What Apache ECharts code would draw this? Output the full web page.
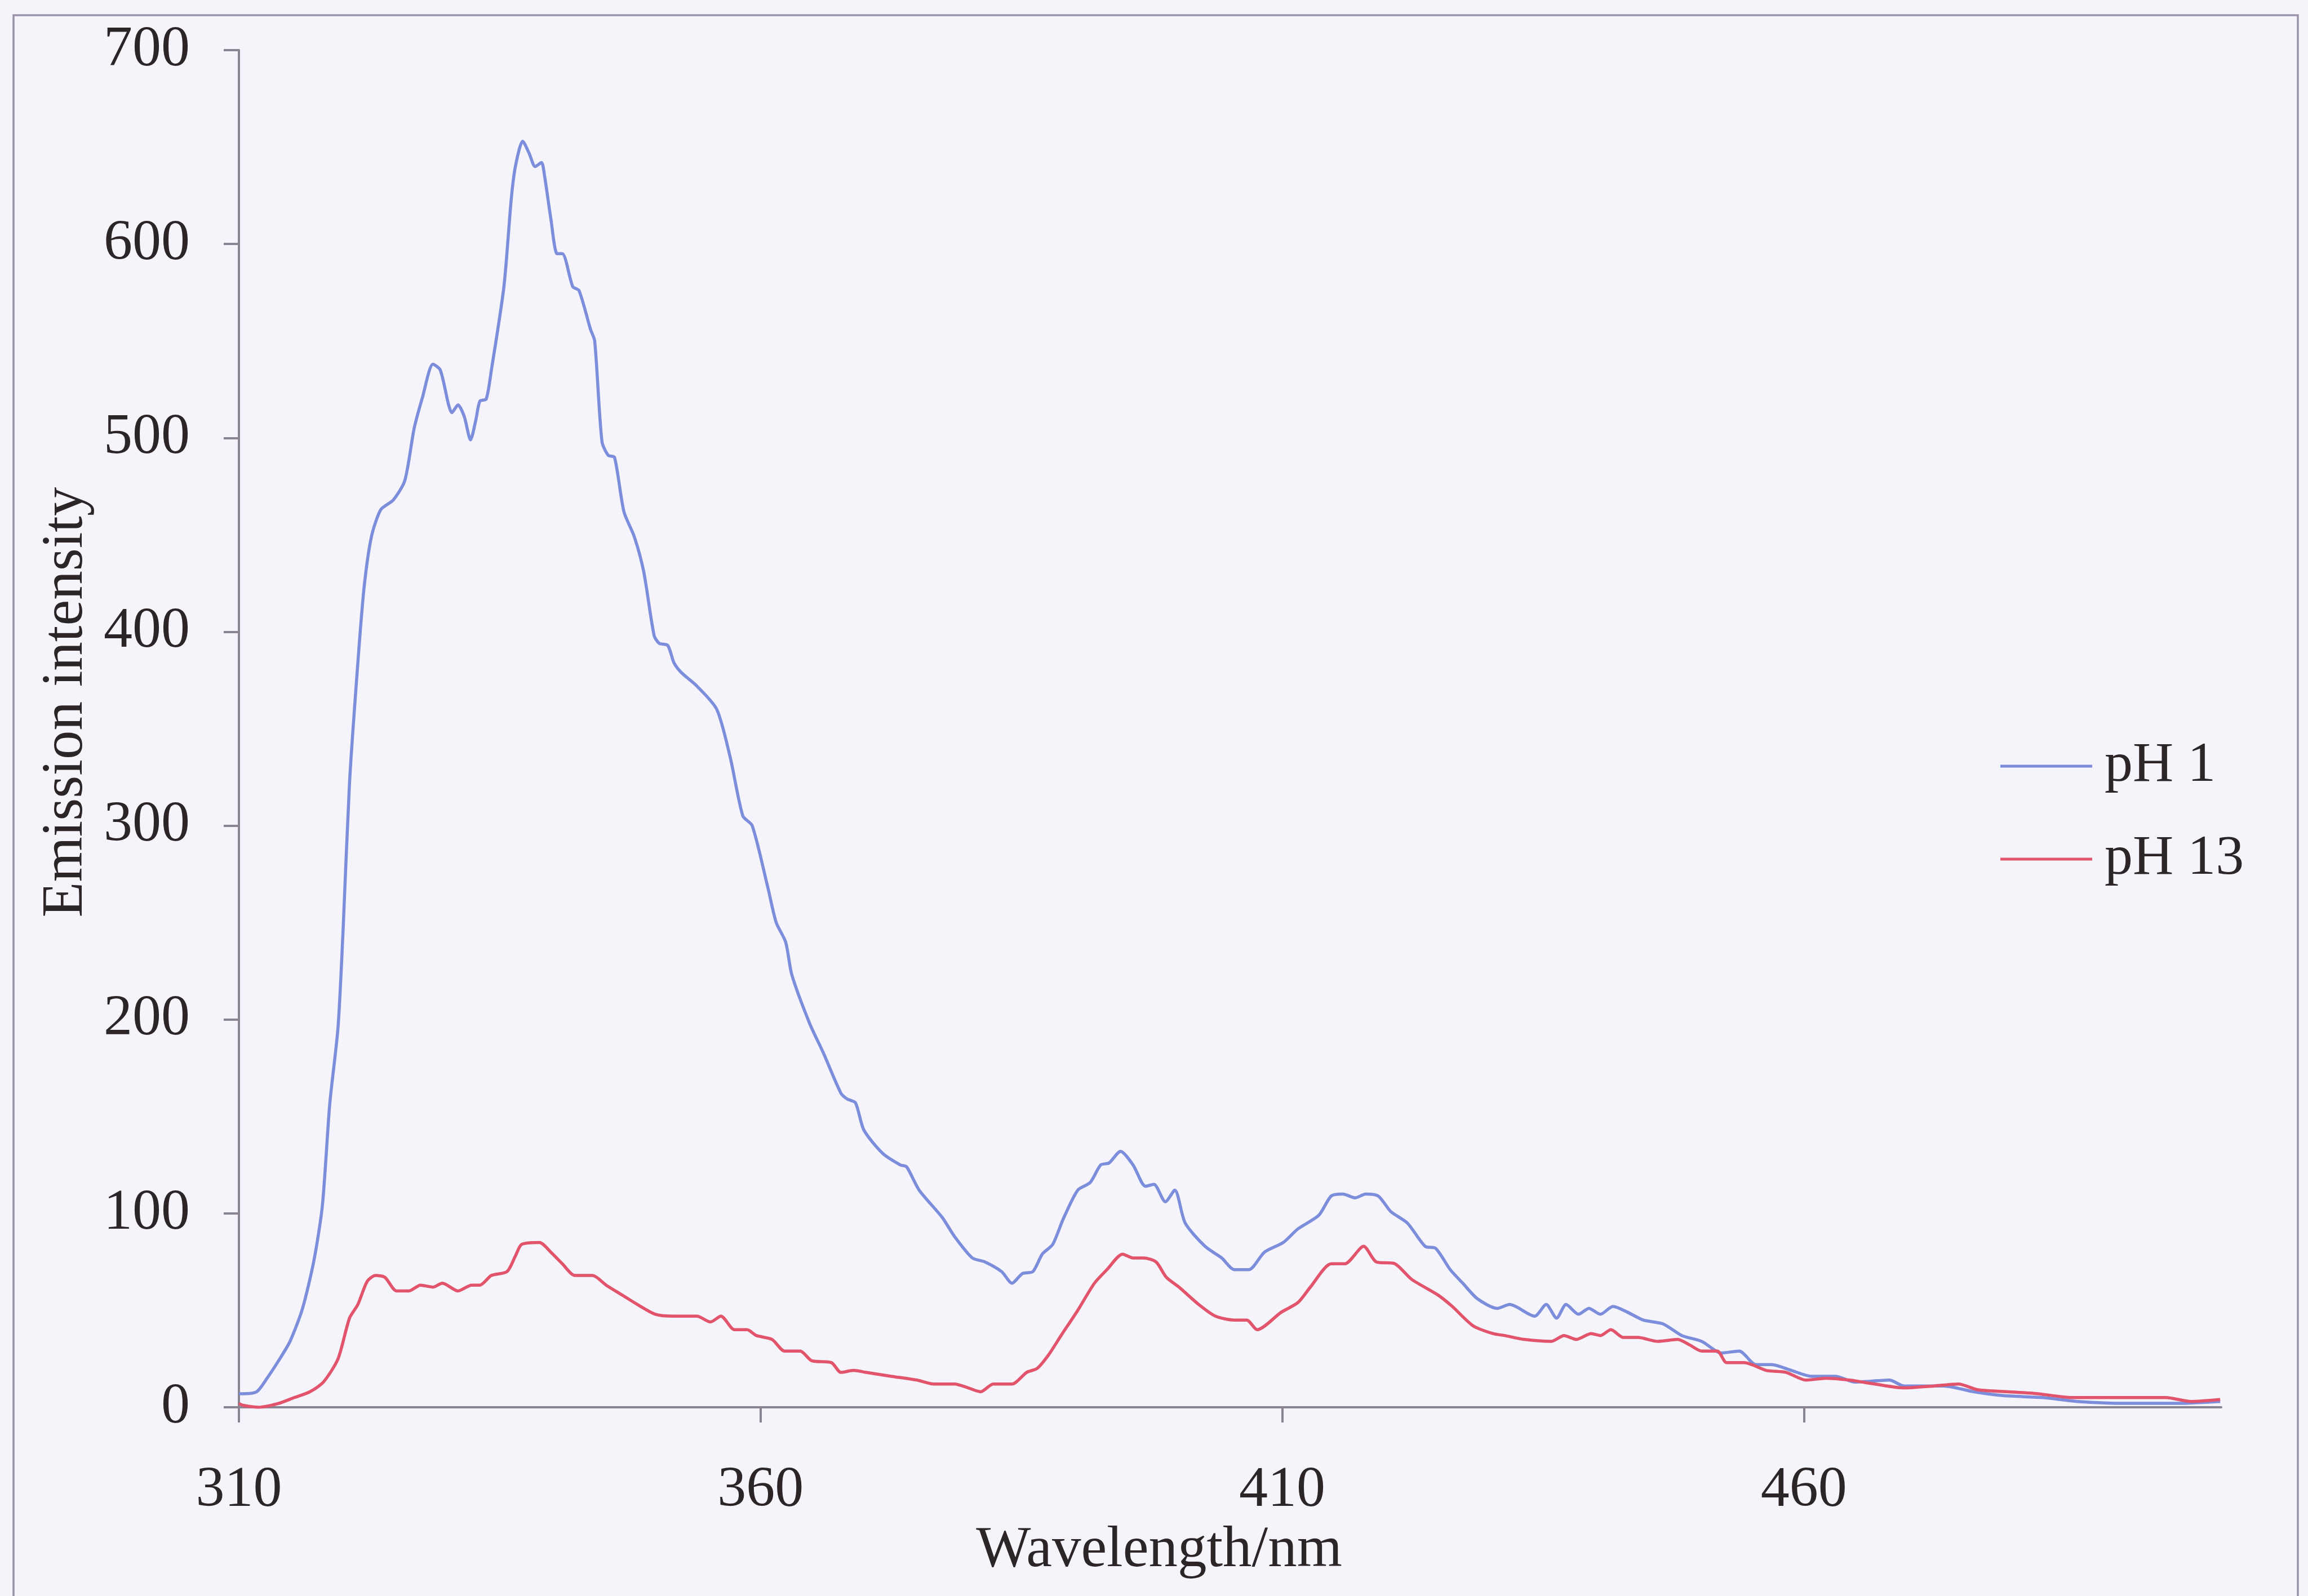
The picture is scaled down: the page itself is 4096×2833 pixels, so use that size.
<!DOCTYPE html>
<html>
<head>
<meta charset="utf-8">
<title>Emission spectra pH 1 / pH 13</title>
<script src="https://cdn.jsdelivr.net/npm/echarts@6/dist/echarts.min.js"></script>
<style>
  html, body { margin: 0; padding: 0; background: #F6F4FB; }
  #main { width: 4096px; height: 2833px; }
</style>
</head>
<body>
<div id="main"></div>
<script>
// values
var ph1Wavelength = [310.0, 310.4, 311.7, 312.7, 313.8, 314.9, 316.1, 317.2, 318.0, 318.7, 319.5, 320.0, 320.6, 321.4,
  322.0, 322.7, 323.6, 324.8, 325.9, 326.8, 327.6, 328.6, 329.3, 330.1, 330.4, 331.0, 331.6, 332.2, 332.7, 333.1,
  333.7, 334.2, 335.4, 336.1, 336.5, 337.2, 337.8, 338.4, 339.0, 339.3, 339.9, 340.5, 341.0, 342.0, 342.6, 343.7,
  344.1, 344.8, 345.4, 346.0, 346.9, 347.9, 348.8, 349.8, 350.3, 351.1, 351.7, 352.4, 353.9, 355.8, 357.1, 358.3,
  359.2, 360.7, 361.5, 362.4, 363.0, 364.7, 366.0, 367.7, 368.3, 369.1, 369.9, 371.7, 373.4, 374.0, 375.2, 377.4,
  378.6, 380.3, 381.5, 383.1, 384.1, 385.1, 386.1, 387.0, 388.0, 389.0, 390.4, 391.6, 392.6, 393.4, 394.5, 395.7,
  396.9, 397.7, 398.8, 399.7, 400.7, 402.6, 404.2, 405.4, 406.8, 408.3, 410.1, 411.5, 413.5, 414.7, 415.8, 417.0,
  418.0, 419.2, 420.4, 422.0, 423.7, 424.7, 426.1, 427.3, 428.7, 430.6, 431.8, 434.2, 435.3, 436.3, 437.2, 438.4,
  439.4, 440.5, 441.7, 443.1, 444.6, 446.5, 448.3, 450.2, 452.1, 453.8, 455.4, 456.9, 458.8, 460.7, 463.0, 464.9,
  468.2, 469.6, 473.4, 476.3, 479.1, 482.9, 486.2, 491.0, 495.7, 499.9];
var ph1Intensity = [7, 7, 8, 15, 24, 34, 51, 76, 104, 156, 196, 248, 322, 384,
  423, 449, 463, 468, 478, 505, 521, 538, 535, 517, 513, 517, 511, 499, 509, 519,
  520, 535, 578, 623, 640, 653, 647, 640, 642, 635, 613, 595, 595, 578, 576, 556,
  550, 498, 491, 490, 462, 449, 431, 398, 394, 393, 384, 379, 372, 360, 335, 305,
  300, 268, 250, 240, 223, 198, 183, 162, 159, 157, 143, 131, 125, 124, 112, 98,
  88, 77, 75, 70, 64, 69, 70, 79, 84, 97, 112, 116, 125, 126, 132, 125,
  114, 115, 106, 112, 95, 83, 77, 71, 71, 80, 85, 92, 99, 109, 110, 108,
  110, 109, 101, 95, 83, 82, 71, 64, 56, 51, 53, 47, 53, 46, 53, 48,
  51, 48, 52, 49, 45, 43, 37, 34, 28, 29, 22, 22, 19, 16, 16, 13,
  14, 11, 11, 8, 6, 5, 3, 2, 2, 3];

var ph13Wavelength = [310.0, 310.4, 311.9, 313.8, 315.3, 316.8, 318.1, 319.5, 320.6, 321.4, 322.3, 323.1, 324.0, 325.1,
  326.3, 327.4, 328.6, 329.5, 331.0, 332.3, 333.1, 334.2, 335.7, 336.5, 337.1, 338.8, 339.9, 341.0, 342.2, 343.9,
  345.2, 346.7, 348.2, 349.9, 351.7, 353.9, 355.2, 356.2, 357.5, 358.7, 359.6, 361.1, 362.3, 363.8, 364.9, 366.8,
  367.7, 368.9, 370.1, 372.5, 375.0, 376.6, 378.6, 379.9, 381.1, 382.3, 384.1, 385.5, 386.5, 387.6, 388.8, 390.4,
  392.0, 393.2, 394.7, 395.7, 396.7, 397.9, 398.9, 400.1, 402.0, 403.6, 405.4, 406.6, 407.6, 409.9, 411.5, 412.7,
  414.7, 416.0, 417.8, 419.0, 420.8, 422.4, 424.9, 426.3, 428.3, 430.2, 431.3, 433.2, 435.8, 437.0, 438.2, 439.6,
  440.5, 441.5, 442.7, 444.1, 446.0, 447.9, 449.1, 450.2, 451.7, 452.6, 454.3, 456.4, 458.3, 460.2, 462.1, 464.4,
  466.8, 469.6, 472.5, 474.8, 476.7, 479.6, 482.4, 485.7, 490.5, 494.7, 497.1, 499.9];
var ph13Intensity = [2, 1, 0, 2, 5, 8, 13, 25, 46, 53, 65, 68, 67, 60,
  60, 63, 62, 64, 60, 63, 63, 68, 70, 78, 84, 85, 80, 74, 68, 68,
  63, 58, 53, 48, 47, 47, 44, 47, 40, 40, 37, 35, 29, 29, 24, 23,
  18, 19, 18, 16, 14, 12, 12, 10, 8, 12, 12, 18, 20, 27, 37, 50,
  64, 71, 79, 77, 77, 75, 67, 62, 53, 47, 45, 45, 40, 49, 54, 62,
  74, 74, 83, 75, 74, 66, 58, 52, 42, 38, 37, 35, 34, 37, 35, 38,
  37, 40, 36, 36, 34, 35, 32, 29, 29, 23, 23, 19, 18, 14, 15, 14,
  12, 10, 11, 12, 9, 8, 7, 5, 5, 5, 3, 4];

var xTicks = [310, 360, 410, 460];
var seriesNames = ['pH 1', 'pH 13'];

function pairs (xs, ys) {
  return xs.map(function (x, i) { return [x, ys[i]] })
}

var chart = echarts.init(document.getElementById('main'))
var FONT = 'Liberation Serif'
var TEXT = '#2B2527'
var AXIS = '#8A8391'

var option = {
  animation: false,
  backgroundColor: '#F6F4FB',
  textStyle: { fontFamily: FONT },
  graphic: [
    {
      // outer frame of the figure
      type: 'rect',
      shape: { x: 24, y: 27, width: 4054, height: 2900 },
      style: { fill: 'none', stroke: '#9A92A8', lineWidth: 3.5 },
      silent: true
    }
  ],
  grid: { left: 424, right: 154, top: 89, bottom: 335, containLabel: false, outerBoundsMode: 'none' },
  legend: {
    orient: 'vertical',
    left: 3545,
    top: 1305,
    icon: 'rect',
    itemWidth: 163,
    itemHeight: 5,
    itemGap: 65,
    data: seriesNames,
    textStyle: { fontFamily: FONT, fontSize: 100, lineHeight: 100, color: TEXT, padding: [0, 0, 0, 17] }
  },
  xAxis: {
    type: 'value',
    min: 310,
    max: 500,
    interval: 50,
    name: 'Wavelength/nm',
    nameLocation: 'middle',
    nameGap: 200,
    nameTextStyle: { fontFamily: FONT, fontSize: 103, color: TEXT, padding: [0, 252, 0, 0] },
    axisLine: { onZero: false, lineStyle: { color: AXIS, width: 4 } },
    axisTick: { show: true, inside: false, length: 27, customValues: xTicks, lineStyle: { color: AXIS, width: 4 } },
    axisLabel: { customValues: xTicks, margin: 97, fontFamily: FONT, fontSize: 102, color: TEXT },
    splitLine: { show: false }
  },
  yAxis: {
    type: 'value',
    min: 0,
    max: 700,
    interval: 100,
    name: 'Emission intensity',
    nameLocation: 'middle',
    nameGap: 255,
    nameTextStyle: { fontFamily: FONT, fontSize: 103, color: TEXT, padding: [0, 0, 0, 94] },
    axisLine: { show: true, lineStyle: { color: AXIS, width: 4 } },
    axisTick: { show: true, inside: false, length: 27, lineStyle: { color: AXIS, width: 4 } },
    axisLabel: { margin: 87, fontFamily: FONT, fontSize: 102, color: TEXT },
    splitLine: { show: false }
  },
  series: [
    {
      name: seriesNames[0],
      type: 'line',
      data: pairs(ph1Wavelength, ph1Intensity),
      showSymbol: false,
      symbol: 'none',
      smooth: 0.25,
      color: '#7C8EDB',
      lineStyle: { color: '#7C8EDB', width: 5.5 },
      z: 3
    },
    {
      name: seriesNames[1],
      type: 'line',
      data: pairs(ph13Wavelength, ph13Intensity),
      showSymbol: false,
      symbol: 'none',
      smooth: 0.25,
      color: '#E2546B',
      lineStyle: { color: '#E2546B', width: 5.5 },
      z: 4
    }
  ]
}

chart.setOption(option)
</script>
</body>
</html>
